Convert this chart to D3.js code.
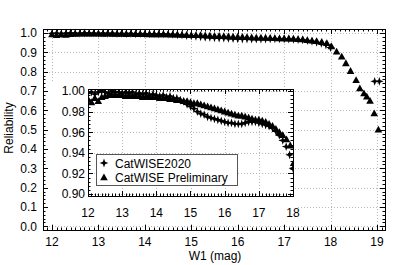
<!DOCTYPE html>
<html><head><meta charset="utf-8">
<script src="https://cdn.jsdelivr.net/npm/d3@7"></script>
<style>
html,body{margin:0;padding:0;background:#fff;}
svg{display:block;font-family:"Liberation Sans",Arial,Helvetica,sans-serif;}
</style></head>
<body><svg id="c" width="407" height="265"></svg>
<script>
// ---- data ----
const mag2020 = [12.0,12.1,12.2,12.3,12.4,12.5,12.6,12.7,12.8,12.9,
  13.0,13.1,13.2,13.3,13.4,13.5,13.6,13.7,13.8,13.9,
  14.0,14.1,14.2,14.3,14.4,14.5,14.6,14.7,14.8,14.9,
  15.0,15.1,15.2,15.3,15.4,15.5,15.6,15.7,15.8,15.9,
  16.0,16.1,16.2,16.3,16.4,16.5,16.6,16.7,16.8,16.9,
  17.0,17.1,17.2,17.3,17.4,17.5,17.6,17.7,17.8,17.9,18.0,
  18.95,19.05];
const rel2020 = [0.998,0.999,0.997,0.999,1.000,0.999,0.998,1.000,0.999,0.999,
  0.998,0.999,0.998,0.999,0.997,0.998,0.997,0.998,0.996,0.997,
  0.996,0.995,0.996,0.994,0.995,0.993,0.993,0.991,0.990,0.987,
  0.985,0.983,0.980,0.978,0.977,0.975,0.974,0.973,0.972,0.971,
  0.970,0.969,0.969,0.968,0.968,0.968,0.969,0.970,0.970,0.970,
  0.969,0.968,0.967,0.966,0.964,0.961,0.957,0.952,0.946,0.938,0.925,
  0.750,0.750];
const magPrelim = [12.0,12.1,12.2,12.3,12.4,12.5,12.6,12.7,12.8,12.9,
  13.0,13.1,13.2,13.3,13.4,13.5,13.6,13.7,13.8,13.9,
  14.0,14.1,14.2,14.3,14.4,14.5,14.6,14.7,14.8,14.9,
  15.0,15.1,15.2,15.3,15.4,15.5,15.6,15.7,15.8,15.9,
  16.0,16.1,16.2,16.3,16.4,16.5,16.6,16.7,16.8,16.9,
  17.0,17.1,17.2,17.3,17.4,17.5,17.6,17.7,17.81,17.92,
  18.02,18.13,18.24,18.33,18.43,18.55,18.63,18.72,18.78,18.85,18.94,19.03];
const relPrelim = [0.992,0.989,0.993,0.990,0.994,0.995,0.996,0.997,0.996,0.996,
  0.996,0.995,0.996,0.995,0.995,0.995,0.994,0.995,0.994,0.994,
  0.994,0.993,0.993,0.993,0.992,0.992,0.991,0.991,0.990,0.990,
  0.989,0.988,0.988,0.987,0.986,0.985,0.984,0.983,0.982,0.981,
  0.980,0.979,0.978,0.977,0.976,0.976,0.975,0.974,0.973,0.972,
  0.972,0.971,0.970,0.968,0.966,0.963,0.960,0.957,0.953,0.947,
  0.930,0.903,0.877,0.843,0.803,0.756,0.713,0.687,0.670,0.648,0.584,0.500];
const mainXTicks = [12,13,14,15,16,17,18,19];
const mainYTicks = [0.0,0.1,0.2,0.3,0.4,0.5,0.6,0.7,0.8,0.9,1.0];
const insetXTicks = [12,13,14,15,16,17,18];
const insetYTicks = [0.90,0.92,0.94,0.96,0.98,1.00];
const seriesNames = ["CatWISE2020","CatWISE Preliminary"];
const xTitle = "W1 (mag)";
const yTitle = "Reliability";

// ---- layout ----
const svg = d3.select("#c");
const M = {l:43, r:385, t:29, b:230};
const x = d3.scaleLinear().domain([12,19]).range([52,377]);
const y = d3.scaleLinear().domain([0,1]).range([226.3,33]);
const I = {l:88, r:293, t:89, b:196};
const xi = d3.scaleLinear().domain([12,18]).range([88,293]);
const yi = d3.scaleLinear().domain([0.90,1.00]).range([194,91]);

const starPath = (function(){
  const R=4.4, r=1.6, pts=[];
  for(let k=0;k<8;k++){const a=k*Math.PI/4 - Math.PI/2; const rr=(k%2===0)?R:r; pts.push([rr*Math.cos(a), rr*Math.sin(a)]);}
  return "M"+pts.map(p=>p[0].toFixed(2)+","+p[1].toFixed(2)).join("L")+"Z";
})();
const triPath = "M0,-4L3.8,2.8L-3.8,2.8Z";
const gridCol = "#b8b8b8";

function drawPanel(g, xs, ys, box, xt, yt){
  xt.forEach(v=>{ const px=Math.round(xs(v))+0.5; if(px>box.l+1 && px<box.r-1)
    g.append("line").attr("x1",px).attr("x2",px).attr("y1",box.t).attr("y2",box.b)
     .attr("stroke",gridCol).attr("stroke-width",1).attr("stroke-dasharray","1,2");});
  yt.forEach(v=>{ const py=Math.round(ys(v))+0.5; if(py>box.t+1 && py<box.b-1)
    g.append("line").attr("x1",box.l).attr("x2",box.r).attr("y1",py).attr("y2",py)
     .attr("stroke",gridCol).attr("stroke-width",1).attr("stroke-dasharray","1,2");});
}
function drawFrame(g, xs, ys, box, xt, yt, xMinorStep, yMinorStep, yFmt, fs, xlabY, ylabX){
  const xmin = xs.invert(box.l), xmax = xs.invert(box.r);
  for(let v=Math.ceil(xmin/xMinorStep)*xMinorStep; v<=xmax+1e-9; v+=xMinorStep){
    const px=Math.round(xs(v))+0.5; const major = xt.some(t=>Math.abs(t-v)<1e-6);
    const L = major?5:2.5;
    g.append("line").attr("x1",px).attr("x2",px).attr("y1",box.b).attr("y2",box.b-L).attr("stroke","#000");
    g.append("line").attr("x1",px).attr("x2",px).attr("y1",box.t).attr("y2",box.t+L).attr("stroke","#000");
  }
  const ymin = ys.invert(box.b), ymax = ys.invert(box.t);
  for(let v=Math.ceil(ymin/yMinorStep-1e-6)*yMinorStep; v<=ymax+1e-9; v+=yMinorStep){
    const py=Math.round(ys(v))+0.5; const major = yt.some(t=>Math.abs(t-v)<1e-6);
    const L = major?5:2.5;
    g.append("line").attr("x1",box.l).attr("x2",box.l+L).attr("y1",py).attr("y2",py).attr("stroke","#000");
    g.append("line").attr("x1",box.r).attr("x2",box.r-L).attr("y1",py).attr("y2",py).attr("stroke","#000");
  }
  g.append("rect").attr("x",box.l+0.5).attr("y",box.t+0.5).attr("width",box.r-box.l).attr("height",box.b-box.t)
   .attr("fill","none").attr("stroke","#000").attr("stroke-width",1);
  xt.forEach(v=>g.append("text").attr("x",xs(v)).attr("y",xlabY).attr("text-anchor","middle")
    .attr("font-size",fs).text(v));
  yt.forEach(v=>g.append("text").attr("x",ylabX).attr("y",ys(v)+4.3).attr("text-anchor","end")
    .attr("font-size",fs).text(yFmt(v)));
}
function drawPoints(g, xs, ys, mags, rels, path){
  g.selectAll(null).data(mags.map((m,i)=>[m,rels[i]])).enter().append("path")
   .attr("d",path).attr("fill","#000")
   .attr("transform",d=>`translate(${xs(d[0])},${ys(d[1])})`);
}

// main panel
const gm = svg.append("g");
drawPanel(gm, x, y, M, mainXTicks, mainYTicks);
drawPoints(gm, x, y, magPrelim, relPrelim, triPath);
drawPoints(gm, x, y, mag2020, rel2020, starPath);
drawFrame(gm, x, y, M, mainXTicks, mainYTicks, 0.1, 0.02, d3.format(".1f"), 12, 246, 37);

// axis titles
svg.append("text").attr("x",(x(15)+x(16))/2+0.5).attr("y",260).attr("text-anchor","middle")
  .attr("font-size",12).text(xTitle);
svg.append("text").attr("transform","translate(13,128) rotate(-90)").attr("text-anchor","middle")
  .attr("font-size",12).text(yTitle);

// inset
const gi = svg.append("g");
gi.append("rect").attr("x",I.l).attr("y",I.t).attr("width",I.r-I.l).attr("height",I.b-I.t).attr("fill","#fff");
gi.append("rect").attr("x",I.l-40).attr("y",I.b).attr("width",I.r-I.l+44).attr("height",26).attr("fill","#fff");
gi.append("rect").attr("x",I.l-40).attr("y",I.t-6).attr("width",40).attr("height",I.b-I.t+10).attr("fill","#fff");
svg.append("clipPath").attr("id","ic").append("rect").attr("x",I.l).attr("y",I.t).attr("width",I.r-I.l+1).attr("height",I.b-I.t+1);
drawPanel(gi, xi, yi, I, insetXTicks, insetYTicks);
const gid = gi.append("g").attr("clip-path","url(#ic)");
drawPoints(gid, xi, yi, magPrelim, relPrelim, triPath);
drawPoints(gid, xi, yi, mag2020, rel2020, starPath);
drawFrame(gi, xi, yi, I, insetXTicks, insetYTicks, 0.1, 0.004, d3.format(".2f"), 12, 217, 85);

// legend
const lg = svg.append("g");
lg.append("rect").attr("x",96.5).attr("y",154.5).attr("width",141).attr("height",31)
  .attr("fill","#fff").attr("stroke","#555").attr("stroke-width",1);
[starPath, triPath].forEach((p,i)=>{
  lg.append("path").attr("d",p).attr("fill","#000").attr("transform",`translate(104,${163+i*14.5})`);
  lg.append("text").attr("x",115).attr("y",167.5+i*14.5).attr("font-size",12).text(seriesNames[i]);
});
</script></body></html>
